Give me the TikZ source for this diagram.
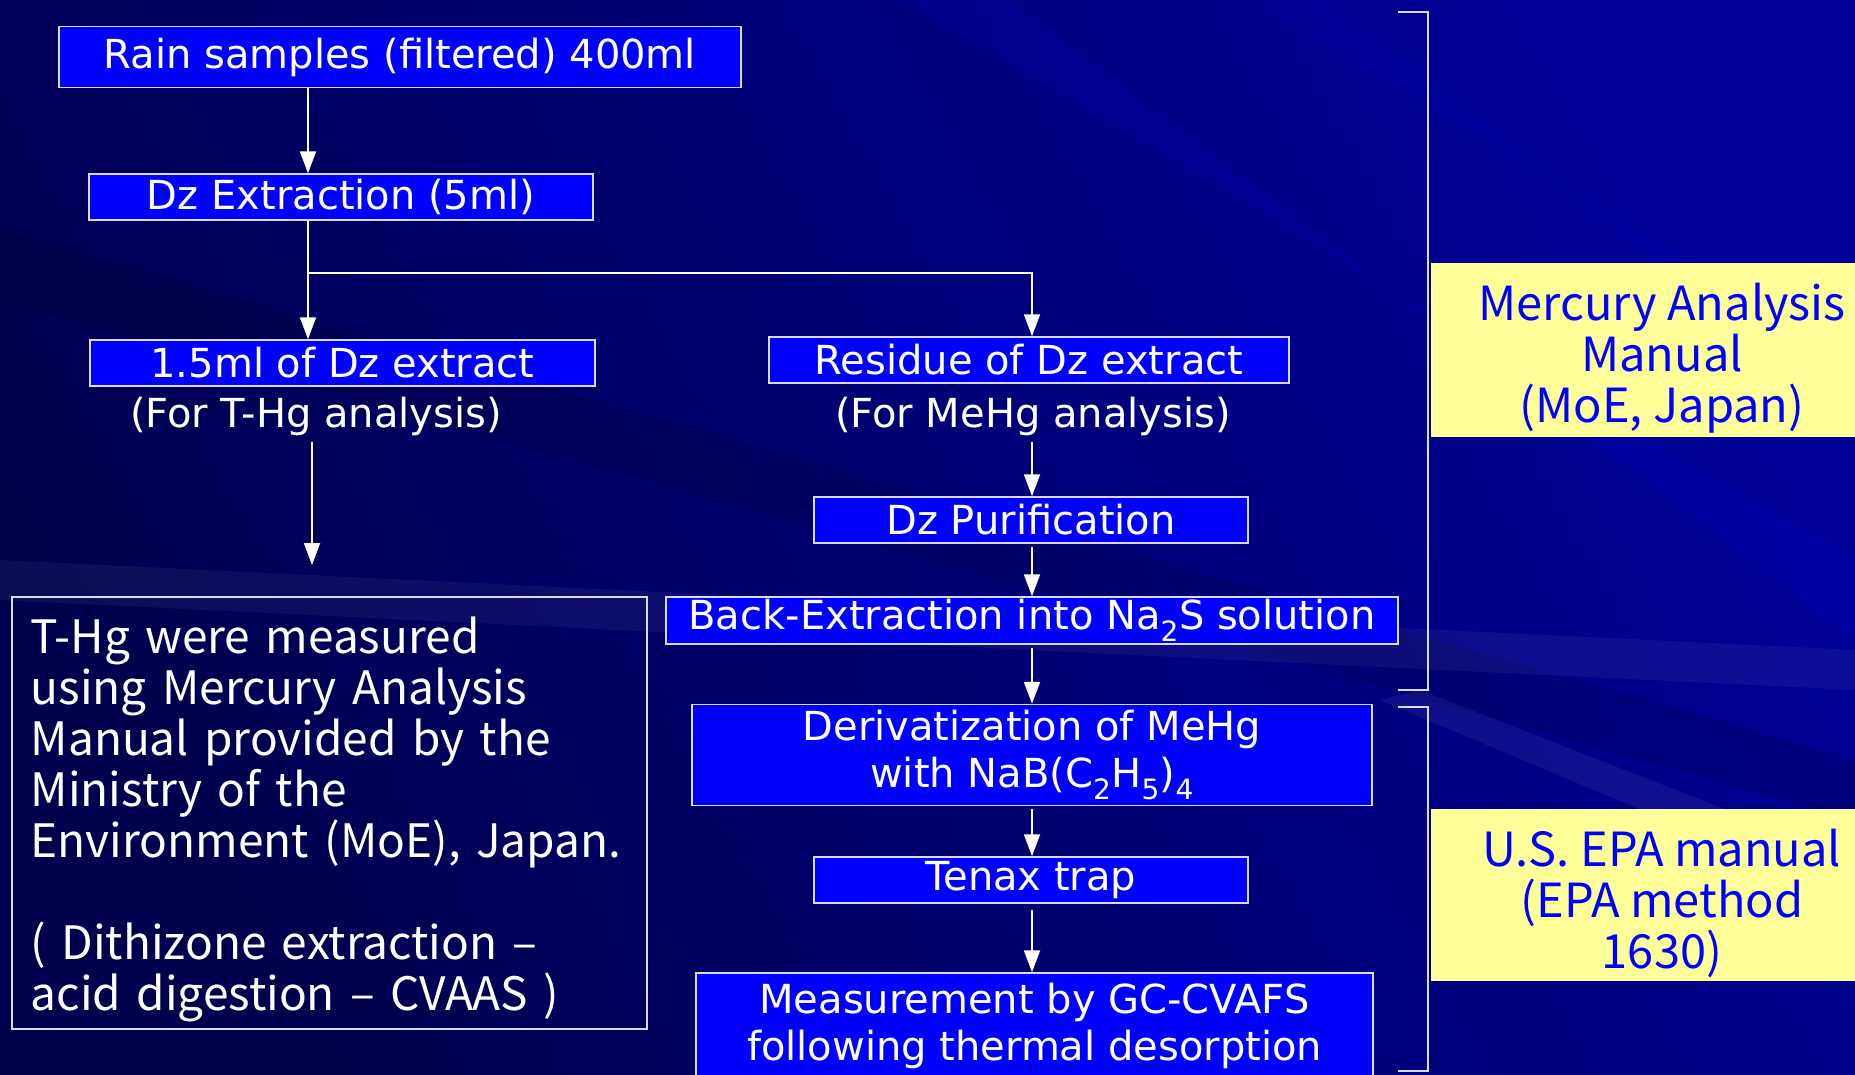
\documentclass[tikz,border=0pt]{standalone}
\usepackage{fontspec}
\newfontfamily\boxfont{DejaVu Sans}
\newfontfamily\jpfont{Noto Sans CJK JP}
\usetikzlibrary{arrows.meta}
\definecolor{boxblue}{HTML}{0000FF}
\definecolor{boxedge}{HTML}{DADAF0}
\definecolor{navydark}{HTML}{00004E}
\definecolor{navylight}{HTML}{000098}
\definecolor{paleyellow}{HTML}{FFFF99}
\definecolor{manualblue}{HTML}{0000FF}
\tikzset{
    stepbox/.style={draw=boxedge, line width=1.5pt, fill=boxblue, text=white,
        inner sep=0pt, align=center, font=\boxfont\fontsize{40}{47}\selectfont},
    purpose/.style={text=white, inner sep=6pt, font=\boxfont\fontsize{40}{47}\selectfont},
    flow/.style={draw=white, line width=2pt, -{Triangle[width=16pt,length=22pt]}},
    manual/.style={fill=paleyellow, text=manualblue, inner sep=0pt, align=center,
        font=\jpfont\fontsize{47}{51}\selectfont},
    bracket/.style={draw=boxedge, line width=2.5pt}
}
\begin{document}
\begin{tikzpicture}[x=1pt,y=-1pt]
    \useasboundingbox (0,0) rectangle (1855,1074);
    % background
    \shade[left color=navydark, right color=navylight, shading angle=120]
        (0,0) rectangle (1855,1074);
    \fill[blue, opacity=0.10] (900,0) -- (1010,0) -- (1855,640) -- (1855,560) -- cycle;
    \fill[blue, opacity=0.08] (1250,0) -- (1330,0) -- (1855,420) -- (1855,360) -- cycle;
    \fill[black, opacity=0.12] (0,230) -- (0,300) -- (1855,820) -- (1855,760) -- cycle;
    \fill[white, opacity=0.06] (1380,700) -- (1855,900) -- (1855,860) -- (1420,690) -- cycle;
    \fill[white, opacity=0.05] (0,560) -- (1855,650) -- (1855,690) -- (0,600) -- cycle;

    % left branch
    \node[stepbox, minimum width=682, minimum height=61] (rain) at (400,57)
        {Rain samples (filtered) 400ml};
    \node[stepbox, minimum width=504, minimum height=46] (dzext) at (341,197)
        {Dz Extraction (5ml)};
    \node[stepbox, minimum width=505, minimum height=46] (portion) at (342.5,363)
        {1.5ml of Dz extract};
    \node[purpose] (thg) at (316,416) {(For T-Hg analysis)};
    \coordinate (thgend) at (312,565);
    \node[draw=boxedge, line width=1.5pt, text=white, anchor=north west,
        minimum width=635, minimum height=432, text width=597, align=left,
        inner sep=0pt, font=\jpfont\fontsize{46}{51}\selectfont] (thgbox) at (11,596)
        {\rule{0pt}{49pt}T-Hg were measured\\ using Mercury Analysis\\ Manual provided by the\\
         Ministry of the\\ Environment (MoE), Japan.\\[51pt]
         ( Dithizone extraction –\\ acid digestion – CVAAS )};

    % right branch
    \node[stepbox, minimum width=520, minimum height=46] (residue) at (1029,360)
        {Residue of Dz extract};
    \node[purpose] (mehg) at (1033,416) {(For MeHg analysis)};
    \node[stepbox, minimum width=434, minimum height=46] (purif) at (1031,520)
        {Dz Purification};
    \node[stepbox, minimum width=732, minimum height=47] (backext) at (1032,620.5)
        {Back-Extraction into Na\textsubscript{2}S solution};
    \node[stepbox, minimum width=680, minimum height=101] (deriv) at (1032,755)
        {Derivatization of MeHg\\ with NaB(C\textsubscript{2}H\textsubscript{5})\textsubscript{4}};
    \node[stepbox, minimum width=434, minimum height=46] (tenax) at (1031,880)
        {Tenax trap};
    \node[stepbox, minimum width=677, minimum height=106] (measure) at (1034.5,1026)
        {Measurement by GC-CVAFS\\ following thermal desorption};

    % manuals
    \node[manual, minimum width=462, minimum height=174] (moe) at (1662,350)
        {\rule{0pt}{54pt}Mercury Analysis\\ Manual\\ (MoE, Japan)};
    \node[manual, minimum width=462, minimum height=172] (epa) at (1662,895)
        {\rule{0pt}{54pt}U.S. EPA manual\\ (EPA method\\ 1630)};
    \draw[bracket] (1398,12) -- (1428,12) -- (1428,690) -- (1398,690);
    \draw[bracket] (1398,707) -- (1428,707) -- (1428,1071) -- (1398,1071);

    % connectors
    \coordinate (trunk) at (308,0);
    \coordinate (column) at (1032,0);
    \draw[flow] (rain.south -| trunk) -- (dzext.north -| trunk);
    \draw[flow] (dzext.south -| trunk) -- (portion.north -| trunk);
    \draw[flow] (trunk |- 0,273) -| (column |- residue.north);
    \draw[flow] (thgend |- thg.south) -- (thgend);
    \draw[flow] (column |- mehg.south) -- (column |- purif.north);
    \draw[flow, shorten <=3pt] (column |- purif.south) -- (column |- backext.north);
    \draw[flow, shorten <=3pt] (column |- backext.south) -- (column |- deriv.north);
    \draw[flow, shorten <=3pt] (column |- deriv.south) -- (column |- tenax.north);
    \draw[flow, shorten <=6pt] (column |- tenax.south) -- (column |- measure.north);
\end{tikzpicture}
\end{document}
